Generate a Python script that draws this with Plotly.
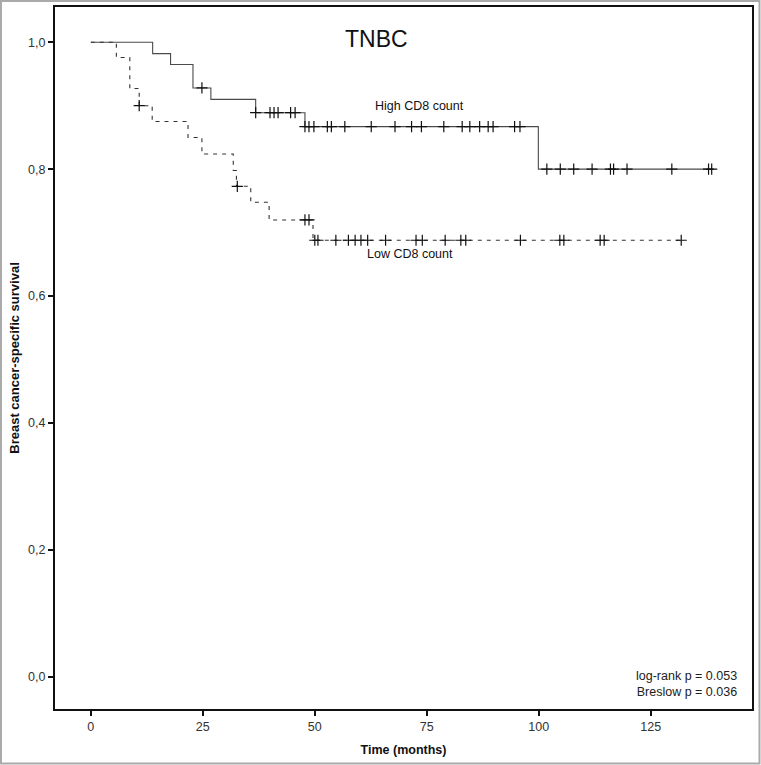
import numpy as np
import plotly.graph_objects as go

# ---- data ----
high_event_times = [0, 13.8, 17.8, 22.8, 26.8, 36.8, 47.8, 99.9]
high_surv = [1.0, 0.982, 0.965, 0.928, 0.910, 0.889, 0.867, 0.800]
high_censor_times = [24.8, 36.8, 40.0, 40.9, 41.8, 44.6, 45.6, 47.8, 48.7, 49.8,
                     52.8, 53.7, 56.7, 62.6, 67.9, 71.6, 73.8, 78.8, 82.9, 84.6,
                     86.8, 88.7, 89.8, 94.6, 95.8, 101.8, 104.8, 107.8, 111.9,
                     116.0, 116.7, 119.7, 129.7, 137.9, 138.6]

low_event_times = [0, 5.7, 8.7, 10.8, 13.7, 21.7, 24.8, 31.8, 32.5, 35.7, 39.8, 49.6]
low_surv = [1.0, 0.976, 0.927, 0.900, 0.875, 0.850, 0.824, 0.798, 0.773, 0.748, 0.720, 0.688]
low_censor_times = [10.8, 32.7, 47.8, 48.7, 50.0, 50.7, 54.7, 57.5, 59.0, 60.3, 61.8,
                    65.8, 72.6, 74.0, 79.1, 82.6, 83.7, 95.9, 104.7, 105.6, 113.7,
                    114.6, 131.8]

x_ticks = [0, 25, 50, 75, 100, 125]
y_ticks = [0.0, 0.2, 0.4, 0.6, 0.8, 1.0]
y_ticktext = ["0,0", "0,2", "0,4", "0,6", "0,8", "1,0"]

title_text = "TNBC"
high_label = "High CD8 count"
low_label = "Low CD8 count"
pvalue_lines = ["log-rank p = 0.053", "Breslow p = 0.036"]


def step_at(times, surv, t):
    idx = np.searchsorted(np.asarray(times), np.asarray(t), side="right") - 1
    return np.asarray(surv)[idx]


FONT = "Arial, Liberation Sans, sans-serif"

fig = go.Figure()


def add_curve(ev_t, ev_s, cens_t, dash, color):
    end_t = max(cens_t)
    xs = list(ev_t) + [end_t]
    ys = list(ev_s) + [ev_s[-1]]
    fig.add_trace(go.Scatter(x=xs, y=ys, mode="lines", line_shape="hv",
                             line=dict(color=color, width=1.1, dash=dash),
                             hoverinfo="skip", showlegend=False))
    cy = step_at(ev_t, ev_s, cens_t)
    fig.add_trace(go.Scatter(x=cens_t, y=cy, mode="markers",
                             marker=dict(symbol="cross-thin", size=8,
                                         line=dict(width=1.2, color="#111")),
                             showlegend=False))


add_curve(high_event_times, high_surv, high_censor_times, "solid", "#4a4a4a")
add_curve(low_event_times, low_surv, low_censor_times, "4px,5px", "#333")

# pixel geometry of the plot area
L, R, T, B = 55, 752, 7, 709
W, H = 761, 765


def px(x):
    return (x - L) / (R - L)


def py(y):
    return (B - y) / (B - T)


annos = [
    dict(text=title_text, x=px(376), y=py(39), size=23),
    dict(text=high_label, x=px(419), y=py(106), size=12.5),
    dict(text=low_label, x=px(410), y=py(254), size=12.5),
]
for a in annos:
    fig.add_annotation(text=a["text"], x=a["x"], y=a["y"], xref="paper", yref="paper",
                       showarrow=False, xanchor="center", yanchor="middle",
                       font=dict(family=FONT, size=a["size"], color="#111"))

fig.add_annotation(text="<br>".join(pvalue_lines), x=px(739), y=py(684),
                   xref="paper", yref="paper", showarrow=False,
                   xanchor="right", yanchor="middle", align="right",
                   font=dict(family=FONT, size=12.5, color="#222"))

# outer light-gray border of the image
fig.add_shape(type="rect", xref="paper", yref="paper",
              x0=px(1), x1=px(759.5), y0=py(763.5), y1=py(1),
              line=dict(color="#aaa", width=2), fillcolor="rgba(0,0,0,0)")

fig.update_layout(
    width=W, height=H,
    margin=dict(l=L, r=W - R, t=T, b=H - B, autoexpand=False),
    paper_bgcolor="white", plot_bgcolor="white",
    font=dict(family=FONT, size=12, color="#333"),
    showlegend=False,
)
fig.update_xaxes(range=[-8.0, 147.6], tickvals=x_ticks,
                 ticks="outside", ticklen=5, tickwidth=2, tickcolor="#111",
                 showline=True, linewidth=2, linecolor="#111", mirror=True,
                 showgrid=False, zeroline=False,
                 tickfont=dict(family=FONT, size=12.5, color="#333"),
                 title=dict(text="<b>Time (months)</b>", standoff=12,
                            font=dict(family=FONT, size=12.5, color="#111")))
fig.update_yaxes(range=[-0.0505, 1.0555], tickvals=y_ticks, ticktext=y_ticktext,
                 ticks="outside", ticklen=5, tickwidth=2, tickcolor="#111",
                 showline=True, linewidth=2, linecolor="#111", mirror=True,
                 showgrid=False, zeroline=False,
                 tickfont=dict(family=FONT, size=12.5, color="#333"),
                 title=dict(text="<b>Breast cancer-specific survival</b>", standoff=6,
                            font=dict(family=FONT, size=13, color="#111")))

fig.write_html("out.html", config={"displayModeBar": False},
               post_script="document.body.style.margin='0px';document.body.style.overflow='hidden';")
